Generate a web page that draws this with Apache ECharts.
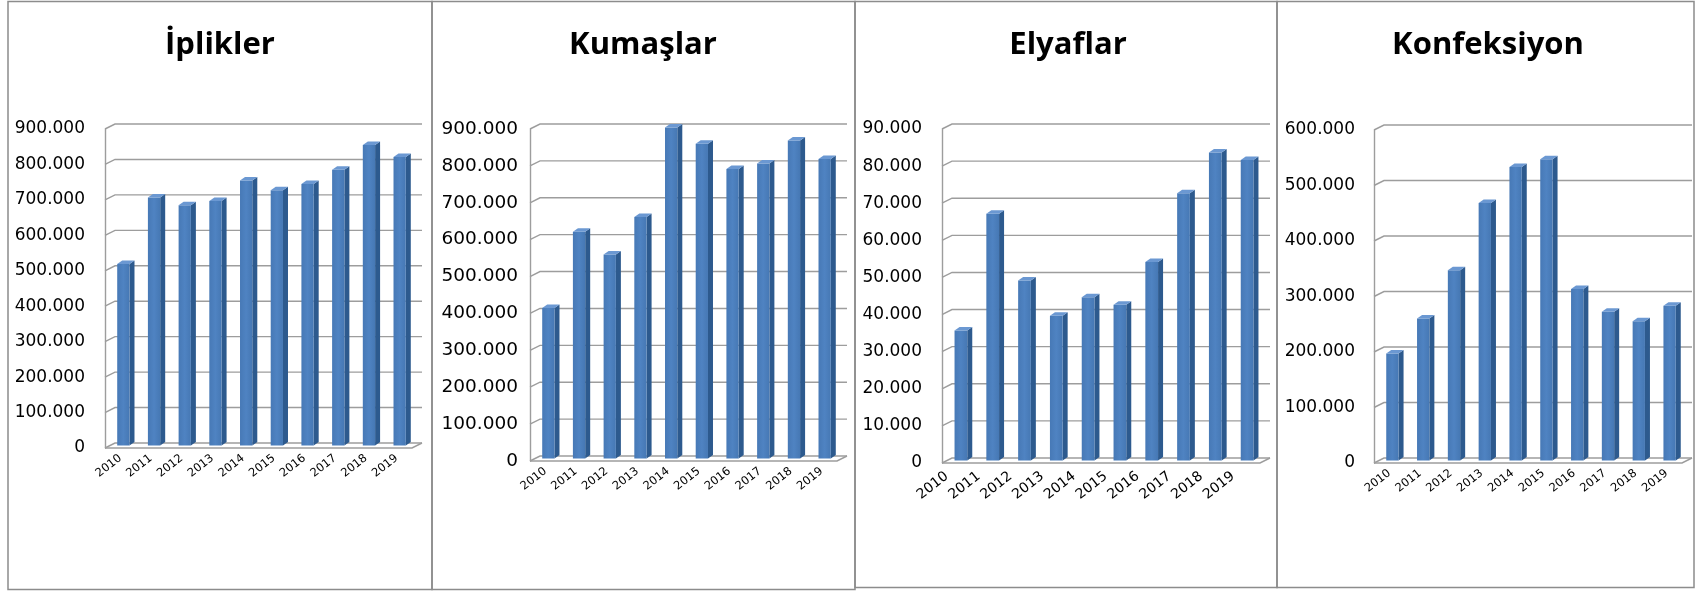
<!DOCTYPE html>
<html>
<head>
<meta charset="utf-8">
<script src="https://cdn.jsdelivr.net/npm/echarts@6/dist/echarts.min.js"></script>
<style>
  html, body { margin: 0; padding: 0; background: #fff; }
  #chart { width: 1695px; height: 591px; }
</style>
</head>
<body>
<div id="chart"></div>
<script>
// years on the x axis (same for all four panels)
const years = ['2010', '2011', '2012', '2013', '2014', '2015', '2016', '2017', '2018', '2019'];

// values
const iplikler = [512000, 700000, 678000, 690000, 748000, 720000, 738000, 778000, 848000, 814000];
const kumaslar = [408000, 615000, 553000, 655000, 897000, 853000, 785000, 800000, 862000, 812000];
const elyaflar = [35000, 66500, 48500, 39000, 44000, 42000, 53500, 72000, 83000, 81000];
const konfeksiyon = [193000, 256000, 343000, 464000, 529000, 543000, 309000, 268000, 251000, 279000];

// tick values of the value axes
const ticksBig = [0, 100000, 200000, 300000, 400000, 500000, 600000, 700000, 800000, 900000];
const ticksElyaf = [0, 10000, 20000, 30000, 40000, 50000, 60000, 70000, 80000, 90000];
const ticksKonf = [0, 100000, 200000, 300000, 400000, 500000, 600000];

const titles = ['İplikler', 'Kumaşlar', 'Elyaflar', 'Konfeksiyon'];

// layout of the four panels (front plane of the 3d box)
const panels = [
  { title: titles[0], data: iplikler, ticks: ticksBig, left: 105, top: 129, width: 307, height: 319, labelMargin: 20, valSize: 17, catSize: 11.5, catPad: 0, catMargin: 9, box: [8, 1.5, 424, 588], titleX: 220 },
  { title: titles[1], data: kumaslar, ticks: ticksBig, left: 530, top: 129, width: 307, height: 332, labelMargin: 12, valSize: 18.5, catSize: 11.5, catPad: 0, catMargin: 9, box: [432, 1.5, 423, 588], titleX: 643 },
  { title: titles[2], data: elyaflar, ticks: ticksElyaf, left: 942, top: 129, width: 318, height: 334, labelMargin: 20, valSize: 17, catSize: 14, catPad: 14, catMargin: 3, box: [855, 1.5, 422, 586], titleX: 1068 },
  { title: titles[3], data: konfeksiyon, ticks: ticksKonf, left: 1374, top: 130, width: 308, height: 333, labelMargin: 19, valSize: 17, catSize: 11.5, catPad: 0, catMargin: 9, box: [1277, 1.5, 417, 586], titleX: 1488 }
];

const DX = 10, DY = 5; // depth of the walls
const GRID_COLOR = '#9d9d9d';

function fmt(v) {
  return String(v).replace(/\B(?=(\d{3})+(?!\d))/g, '.');
}

function renderWall(params, api) {
  const cs = params.coordSys;
  const v = api.value(1);
  const y = api.coord([0, v])[1];
  const L = cs.x, R = cs.x + cs.width;
  const style = { stroke: GRID_COLOR, lineWidth: 1.4, fill: null };
  const children = [
    { type: 'polyline', shape: { points: [[L, y], [L + DX, y - DY], [R + DX, y - DY]] }, style: style }
  ];
  if (v === 0) {
    children.push({ type: 'polyline', shape: { points: [[L, y], [R, y], [R + DX, y - DY]] }, style: style });
  }
  return { type: 'group', children: children };
}

function renderBar(params, api) {
  const i = api.value(0);
  const v = api.value(1);
  const base = api.coord([i, 0]);
  const top = api.coord([i, v]);
  const band = api.size([1, 0])[0];
  const w = band * 0.4;
  const sx = 3, sy = 2.5; // bars sit in the middle of the depth
  const d = 5, dd = 3.5;  // depth of the bar itself
  const x0 = base[0] - w / 2 + sx;
  const x1 = x0 + w;
  const yb = base[1] - sy;
  const yt = top[1] - sy;
  return {
    type: 'group',
    children: [
      {
        type: 'polygon',
        shape: { points: [[x1, yt], [x1 + d, yt - dd], [x1 + d, yb - dd], [x1, yb]] },
        style: { fill: '#2d5a8e' }
      },
      {
        type: 'rect',
        shape: { x: x0, y: yt, width: w, height: yb - yt },
        style: {
          fill: new echarts.graphic.LinearGradient(0, 0, 1, 0, [
            { offset: 0, color: '#4779b6' },
            { offset: 0.5, color: '#4f83c2' },
            { offset: 1, color: '#4678b4' }
          ])
        }
      },
      {
        type: 'polygon',
        shape: { points: [[x0, yt], [x0 + d, yt - dd], [x1 + d, yt - dd], [x1, yt]] },
        style: { fill: '#6b98d2' }
      }
    ]
  };
}

const chart = echarts.init(document.getElementById('chart'));

const grid = [], xAxis = [], yAxis = [], series = [], graphic = [];

panels.forEach((p, k) => {
  const max = p.ticks[p.ticks.length - 1];
  const step = p.ticks[1] - p.ticks[0];

  grid.push({ left: p.left, top: p.top, width: p.width, height: p.height });

  xAxis.push({
    type: 'category',
    gridIndex: k,
    data: years,
    axisLine: { show: false },
    axisTick: { show: false },
    axisLabel: {
      rotate: 38,
      margin: p.catMargin,
      padding: [0, p.catPad, 0, 0],
      fontSize: p.catSize,
      color: '#000',
      fontFamily: 'DejaVu Sans',
      interval: 0
    }
  });

  yAxis.push({
    type: 'value',
    gridIndex: k,
    min: 0,
    max: max,
    interval: step,
    axisLine: { show: true, lineStyle: { color: GRID_COLOR, width: 1.4 } },
    axisTick: { show: false },
    splitLine: { show: false },
    axisLabel: {
      margin: p.labelMargin,
      fontSize: p.valSize,
      color: '#000',
      fontFamily: 'DejaVu Sans',
      formatter: fmt
    }
  });

  series.push({
    type: 'custom',
    xAxisIndex: k,
    yAxisIndex: k,
    clip: false,
    silent: true,
    z: 1,
    renderItem: renderWall,
    data: p.ticks.map(v => [0, v])
  });

  series.push({
    type: 'custom',
    xAxisIndex: k,
    yAxisIndex: k,
    clip: false,
    z: 3,
    renderItem: renderBar,
    data: p.data.map((v, i) => [i, v])
  });

  graphic.push({
    type: 'rect',
    shape: { x: p.box[0], y: p.box[1], width: p.box[2], height: p.box[3] },
    style: { fill: null, stroke: '#8c8c8c', lineWidth: 1.5 },
    z: 0
  });

  graphic.push({
    type: 'text',
    x: p.titleX,
    y: 45,
    style: {
      text: p.title,
      align: 'center',
      verticalAlign: 'middle',
      font: 'bold 31px "Open Sans"',
      fill: '#000'
    }
  });
});

chart.setOption({
  animation: false,
  grid: grid,
  xAxis: xAxis,
  yAxis: yAxis,
  series: series,
  graphic: graphic
});
</script>
</body>
</html>
